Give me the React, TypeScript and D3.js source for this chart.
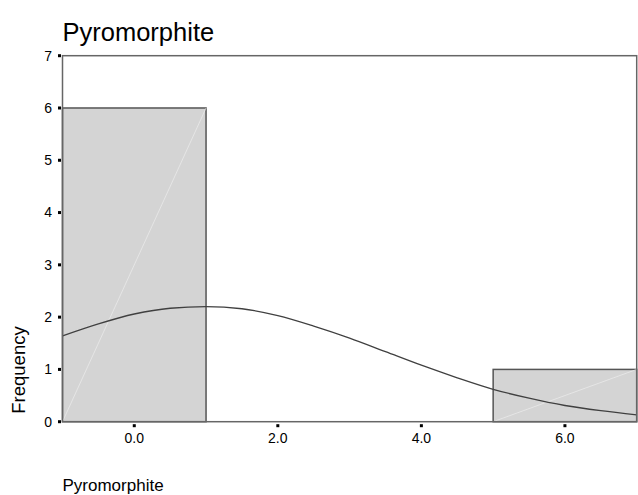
import React from "react";
import * as d3 from "d3";

const binStarts = [-1, 1, 3, 5];
const binEnds = [1, 3, 5, 7];
const binCounts = [6, 0, 0, 1];
const curveX = [-1, -0.5, 0, 0.5, 1, 1.5, 2, 2.5, 3, 3.5, 4, 4.5, 5, 5.5, 6, 6.5, 7];
const curveY = [1.64, 1.87, 2.06, 2.17, 2.2, 2.16, 2.03, 1.83, 1.6, 1.34, 1.08, 0.84, 0.62, 0.45, 0.31, 0.21, 0.13];
const yTicks = [0, 1, 2, 3, 4, 5, 6, 7];
const xTicks = [0, 2, 4, 6];
const title = "Pyromorphite";
const xLabel = "Pyromorphite";
const yLabel = "Frequency";

export default function App() {
  const W = 638, H = 495;
  const left = 62.5, right = 636.7, top = 55.7, bottom = 421.7;
  const x = d3.scaleLinear().domain([-1, 7]).range([left, right]);
  const y = d3.scaleLinear().domain([0, 7]).range([bottom, top]);
  const font = "'Liberation Sans', Arial, sans-serif";
  const line = d3.line<number>().x((d, i) => x(curveX[i])).y((d) => y(d)).curve(d3.curveMonotoneX);
  return (
    <svg width={W} height={H} style={{ position: "absolute", left: 0, top: 0, background: "#fff" }} fontFamily={font}>
      <defs>
        <clipPath id="plotclip">
          <rect x={left} y={top} width={right - left} height={bottom - top} />
        </clipPath>
      </defs>
      <text x={left} y={41} fontSize={25.5} fill="#000">{title}</text>
      {binCounts.map((c, i) =>
        c > 0 ? (
          <g key={i}>
            <rect x={x(binStarts[i])} y={y(c)} width={x(binEnds[i]) - x(binStarts[i])} height={y(0) - y(c)} fill="#d4d4d4" stroke="#555" strokeWidth={1.5} />
            <line x1={x(binStarts[i])} y1={y(0)} x2={x(binEnds[i])} y2={y(c)} stroke="#ececec" strokeWidth={0.7} />
          </g>
        ) : null
      )}
      <path d={line(curveY) || ""} fill="none" stroke="#404040" strokeWidth={1.3} clipPath="url(#plotclip)" />
      <rect x={left} y={top} width={right - left} height={bottom - top} fill="none" stroke="#666" strokeWidth={1.5} />
      {yTicks.map((t) => (
        <g key={t}>
          <rect x={left - 4.5} y={y(t) - 1.5} width={3} height={3} fill="#000" />
          <text x={52} y={y(t)} dy="0.35em" textAnchor="end" fontSize={14} fill="#000">{t}</text>
        </g>
      ))}
      {xTicks.map((t) => (
        <g key={t}>
          <rect x={x(t) - 1.5} y={bottom + 2.5} width={3} height={3} fill="#000" />
          <text x={x(t)} y={443} textAnchor="middle" fontSize={14} fill="#000">{t.toFixed(1)}</text>
        </g>
      ))}
      <text transform={`translate(24.5,${370}) rotate(-90)`} textAnchor="middle" fontSize={18.5} fill="#000">{yLabel}</text>
      <text x={left} y={491} fontSize={17} fill="#000">{xLabel}</text>
    </svg>
  );
}
